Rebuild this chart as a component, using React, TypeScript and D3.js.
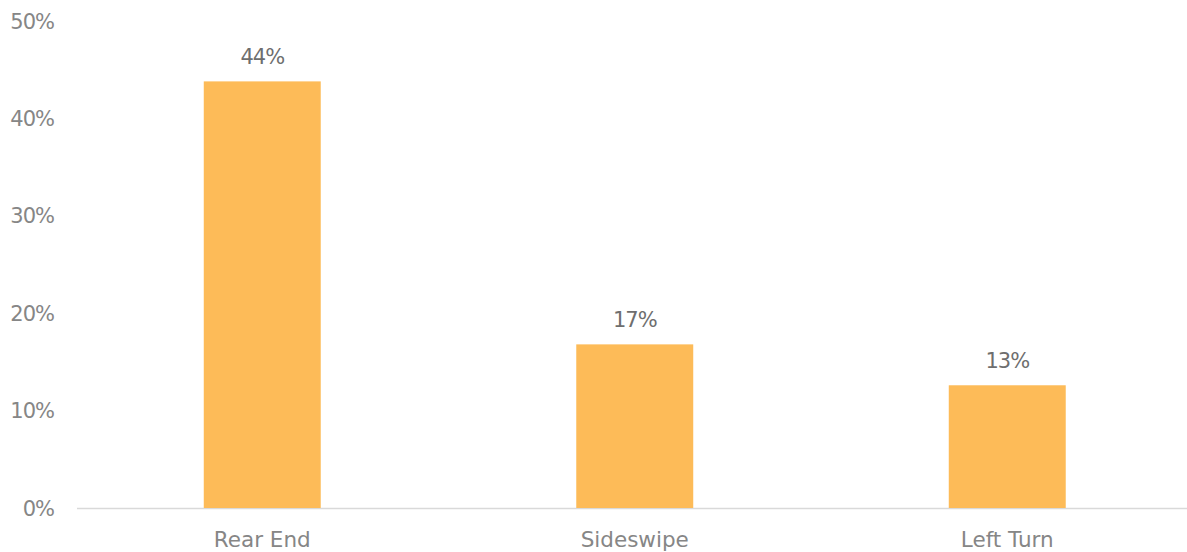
import React from "react";
import * as d3 from "d3";

const categories = ["Rear End", "Sideswipe", "Left Turn"];
const values = [43.8, 16.8, 12.6];
const valueLabels = ["44%", "17%", "13%"];
const yTicks = [0, 10, 20, 30, 40, 50];

const W = 1187;
const H = 552;
const FONT = "'DejaVu Sans', sans-serif";

export default function App() {
  const x = d3.scaleBand<string>().domain(categories).range([76, 1193.5]).paddingInner(0.686).paddingOuter(0.343);
  const y = d3.scaleLinear().domain([0, 50]).range([508, 21]);

  return (
    <svg width={W} height={H} style={{ position: "absolute", left: 0, top: 0, background: "#fff" }}>
      <line x1={77} x2={W} y1={y(0) + 0.5} y2={y(0) + 0.5} stroke="#d9d9d9" strokeWidth={1.5} />
      {yTicks.map((t) => (
        <text key={t} x={54} y={y(t)} dy="0.36em" textAnchor="end" fontFamily={FONT} fontSize={21} fill="#868686" style={{ letterSpacing: "-1px" }}>
          {t}%
        </text>
      ))}
      {categories.map((c, i) => (
        <g key={c}>
          <rect x={x(c)} y={y(values[i])} width={x.bandwidth()} height={y(0) - y(values[i])} fill="#FDBB58" />
          <text x={(x(c) as number) + x.bandwidth() / 2} y={y(values[i]) - 17} textAnchor="middle" fontFamily={FONT} fontSize={21} fill="#6e6e6e" style={{ letterSpacing: "-1px" }}>
            {valueLabels[i]}
          </text>
          <text x={(x(c) as number) + x.bandwidth() / 2} y={547} textAnchor="middle" fontFamily={FONT} fontSize={21.5} fill="#868686">
            {c}
          </text>
        </g>
      ))}
    </svg>
  );
}
